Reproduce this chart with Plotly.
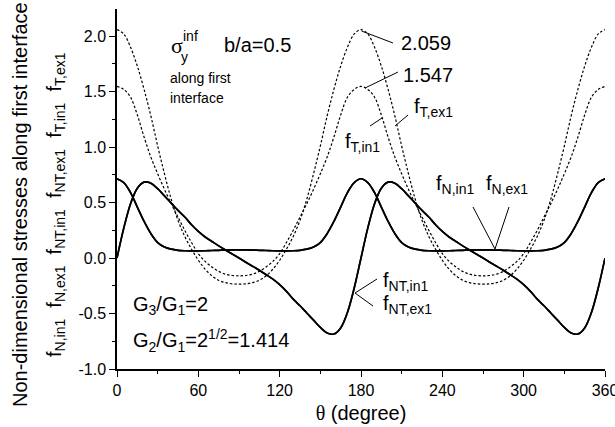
import plotly.graph_objects as go

# ---------------- data ----------------
theta = list(range(0, 361, 5))

f_T_ex1 = [2.059, 2.02, 1.90, 1.73, 1.52, 1.28, 1.01, 0.76, 0.53, 0.34, 0.195, 0.08, -0.02, -0.10, -0.16, -0.20, -0.222, -0.232, -0.235,
           -0.232, -0.222, -0.20, -0.16, -0.10, -0.02, 0.08, 0.195, 0.34, 0.53, 0.76, 1.01, 1.28, 1.52, 1.73, 1.90, 2.02, 2.059,
           2.02, 1.90, 1.73, 1.52, 1.28, 1.01, 0.76, 0.53, 0.34, 0.195, 0.08, -0.02, -0.10, -0.16, -0.20, -0.222, -0.232, -0.235,
           -0.232, -0.222, -0.20, -0.16, -0.10, -0.02, 0.08, 0.195, 0.34, 0.53, 0.76, 1.01, 1.28, 1.52, 1.73, 1.90, 2.02, 2.059]

f_T_in1 = [1.547, 1.52, 1.45, 1.29, 1.09, 0.91, 0.76, 0.62, 0.49, 0.37, 0.25, 0.14, 0.04, -0.03, -0.08, -0.12, -0.145, -0.157, -0.16,
           -0.157, -0.145, -0.12, -0.08, -0.03, 0.04, 0.14, 0.25, 0.37, 0.49, 0.62, 0.76, 0.91, 1.09, 1.29, 1.45, 1.52, 1.547,
           1.52, 1.45, 1.29, 1.09, 0.91, 0.76, 0.62, 0.49, 0.37, 0.25, 0.14, 0.04, -0.03, -0.08, -0.12, -0.145, -0.157, -0.16,
           -0.157, -0.145, -0.12, -0.08, -0.03, 0.04, 0.14, 0.25, 0.37, 0.49, 0.62, 0.76, 0.91, 1.09, 1.29, 1.45, 1.52, 1.547]

f_N_in1 = [0.715, 0.68, 0.59, 0.46, 0.33, 0.22, 0.14, 0.10, 0.08, 0.07, 0.066, 0.065, 0.065, 0.066, 0.068, 0.07, 0.072, 0.073, 0.073,
           0.073, 0.072, 0.07, 0.068, 0.066, 0.065, 0.065, 0.066, 0.07, 0.08, 0.10, 0.14, 0.22, 0.33, 0.46, 0.59, 0.68, 0.715,
           0.68, 0.59, 0.46, 0.33, 0.22, 0.14, 0.10, 0.08, 0.07, 0.066, 0.065, 0.065, 0.066, 0.068, 0.07, 0.072, 0.073, 0.073,
           0.073, 0.072, 0.07, 0.068, 0.066, 0.065, 0.065, 0.066, 0.07, 0.08, 0.10, 0.14, 0.22, 0.33, 0.46, 0.59, 0.68, 0.715]
f_N_ex1 = list(f_N_in1)  # coincides with f_N,in1 at this scale

f_NT_in1 = [0, 0.27, 0.49, 0.63, 0.685, 0.675, 0.625, 0.56, 0.495, 0.43, 0.37, 0.30, 0.24, 0.19, 0.15, 0.11, 0.073, 0.037, 0,
            -0.037, -0.073, -0.11, -0.15, -0.19, -0.24, -0.30, -0.37, -0.43, -0.495, -0.56, -0.625, -0.675, -0.685, -0.63, -0.49, -0.27, 0,
            0.27, 0.49, 0.63, 0.685, 0.675, 0.625, 0.56, 0.495, 0.43, 0.37, 0.30, 0.24, 0.19, 0.15, 0.11, 0.073, 0.037, 0,
            -0.037, -0.073, -0.11, -0.15, -0.19, -0.24, -0.30, -0.37, -0.43, -0.495, -0.56, -0.625, -0.675, -0.685, -0.63, -0.49, -0.27, 0]
f_NT_ex1 = list(f_NT_in1)  # coincides with f_NT,in1 at this scale

x_ticks = [0, 60, 120, 180, 240, 300, 360]
y_ticks = [-1.0, -0.5, 0.0, 0.5, 1.0, 1.5, 2.0]
y_tick_labels = ["-1.0", "-0.5", "0.0", "0.5", "1.0", "1.5", "2.0"]

# ---------------- figure ----------------
FONT = "Arial, Liberation Sans, sans-serif"
SERIF = "Liberation Serif"

fig = go.Figure()
dotted = dict(color="black", width=1.2, dash="2.5px,2px", shape="spline", smoothing=1.0)
solid = dict(color="black", width=1.7, shape="spline", smoothing=1.0)

for name, ys, st in [("f_T,ex1", f_T_ex1, dotted), ("f_T,in1", f_T_in1, dotted),
                     ("f_N,in1", f_N_in1, solid), ("f_N,ex1", f_N_ex1, solid),
                     ("f_NT,in1", f_NT_in1, solid), ("f_NT,ex1", f_NT_ex1, solid)]:
    fig.add_trace(go.Scatter(x=theta, y=ys, mode="lines", name=name, line=st,
                             showlegend=False, hoverinfo="skip"))

L, R, T, B = 117, 10, 9, 58
W, H = 615, 427
PW, PH = W - L - R, H - T - B


def pp(px, py):
    return (px - L) / PW, (H - B - py) / PH


def label(px, py, text, size=20, anchor="left", family=FONT):
    x, y = pp(px, py)
    fig.add_annotation(x=x, y=y, xref="paper", yref="paper", text=text, showarrow=False,
                       xanchor=anchor, yanchor="middle", font=dict(size=size, family=family, color="black"))


def leader(p0, p1):
    x0, y0 = pp(*p0)
    x1, y1 = pp(*p1)
    fig.add_shape(type="line", xref="paper", yref="paper", x0=x0, y0=y0, x1=x1, y1=y1,
                  line=dict(color="black", width=1))


# text labels
label(169, 46, "σ", size=22, family=SERIF)
label(181, 36, "inf", size=14)
label(179, 57, "y", size=14)
label(222, 45, "b/a=0.5", size=20)
label(168, 78, "along first", size=14)
label(168, 98, "interface", size=14)
label(399, 43, "2.059", size=20)
label(401, 75, "1.547", size=20)
label(412, 107, "f<sub>T,ex1</sub>", size=20)
label(343, 142, "f<sub>T,in1</sub>", size=20)
label(434, 184, "f<sub>N,in1</sub>", size=20)
label(484, 184, "f<sub>N,ex1</sub>", size=20)
label(381, 281, "f<sub>NT,in1</sub>", size=20)
label(381, 304, "f<sub>NT,ex1</sub>", size=20)
label(131, 305, "G<sub>3</sub>/G<sub>1</sub>=2", size=20)
label(131, 340, "G<sub>2</sub>/G<sub>1</sub>=2<sup>1/2</sup>=1.414", size=20)

# leader lines
leader((361.5, 31), (393, 43))
leader((365, 88), (398, 72))
leader((395, 126), (408, 115))
leader((370, 126), (382, 118))
leader((473, 207), (495, 249))
leader((509, 207), (495, 249))
leader((355, 293), (377, 279))
leader((355, 293), (373, 306))

# y-axis title (two rotated lines)
for cx, txt in [(20, "Non-dimensional stresses along first interface"),
                (55, "f<sub>N,in1</sub>  f<sub>N,ex1</sub>  f<sub>NT,in1</sub>  f<sub>NT,ex1</sub>  f<sub>T,in1</sub>  f<sub>T,ex1</sub>")]:
    x, y = pp(cx, 205)
    fig.add_annotation(x=x, y=y, xref="paper", yref="paper", text=txt, showarrow=False, textangle=-90,
                       xanchor="center", yanchor="middle", font=dict(size=20, family=FONT, color="black"))

axis_common = dict(showline=True, linecolor="black", linewidth=1.5, ticks="outside", ticklen=6, tickwidth=1.3,
                   tickcolor="black", showgrid=False, zeroline=False, tickfont=dict(size=16, family=FONT, color="black"))

fig.update_layout(
    width=W, height=H,
    margin=dict(l=L, r=R, t=T, b=B, autoexpand=False),
    paper_bgcolor="white", plot_bgcolor="white",
    font=dict(family=FONT, color="black"),
    xaxis=dict(range=[0, 360], tickvals=x_ticks, ticktext=[str(v) for v in x_ticks],
               ticklabeloverflow="allow",
               minor=dict(dtick=30, tick0=0, ticks="outside", ticklen=3, tickwidth=1.3, tickcolor="black"),
               title=dict(text="<span style='font-family:Liberation Serif'>θ</span> (degree)",
                          font=dict(size=20, family=FONT), standoff=8),
               **axis_common),
    yaxis=dict(range=[-1, 2.245], tickvals=y_ticks, ticktext=y_tick_labels,
               minor=dict(dtick=0.25, tick0=-1, ticks="outside", ticklen=3, tickwidth=1.3, tickcolor="black"),
               **axis_common),
)

fig.write_html("out.html", config={"displayModeBar": False},
               post_script="document.body.style.margin='0';document.body.style.overflow='hidden';")
